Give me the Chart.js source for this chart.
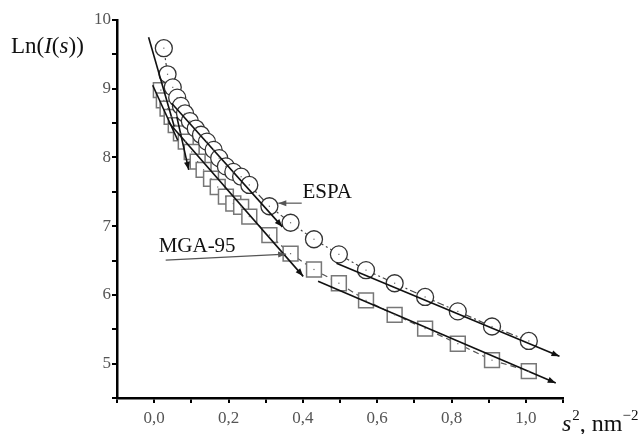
<!DOCTYPE html>
<html>
<head>
<meta charset="utf-8">
<script src="https://cdn.jsdelivr.net/npm/chart.js@4.4.1/dist/chart.umd.min.js"></script>
<style>
body{margin:0;background:#fff;}
#wrap{width:643px;height:434px;}
</style>
</head>
<body>
<div id="wrap"><canvas id="chart"></canvas></div>
<script>
// ESPA - circles
const espaS2=[0.026,0.036,0.05,0.062,0.072,0.083,0.096,0.112,0.126,0.142,0.16,0.175,0.193,0.213,0.234,0.256,0.31,0.367,0.43,0.497,0.57,0.647,0.729,0.817,0.909,1.008];
const espaLn=[9.59,9.21,9.02,8.87,8.75,8.64,8.53,8.42,8.33,8.23,8.11,7.99,7.87,7.79,7.72,7.6,7.29,7.05,6.81,6.59,6.36,6.17,5.97,5.76,5.54,5.33];

// MGA-95 - squares
const mgaS2=[0.018,0.026,0.036,0.047,0.058,0.072,0.085,0.101,0.117,0.133,0.153,0.171,0.193,0.213,0.234,0.256,0.31,0.367,0.43,0.497,0.57,0.647,0.729,0.817,0.909,1.008];
const mgaLn=[8.98,8.83,8.71,8.59,8.47,8.35,8.23,8.08,7.94,7.82,7.69,7.57,7.43,7.33,7.28,7.14,6.87,6.6,6.37,6.17,5.92,5.71,5.51,5.29,5.05,4.89];

// straight fits [x0,y0,x1,y1]
const espaFits=[[-0.015,9.75,0.054,8.45],[0.047,8.79,0.345,6.99],[0.4905,6.461,1.0905,5.107]];
const mgaFits=[[-0.004,9.05,0.0635,8.25],[0.039,8.51,0.401,6.27],[0.441,6.199,1.0805,4.718],[0.061,8.59,0.093,7.82]];
const fitArrows=[false,true,true,true];

// label pointers [x0,y0,x1,y1]
const pointers=[[0.397,7.335,0.334,7.335],[0.031,6.505,0.355,6.592]];
const labelNames=["ESPA","MGA-95"];
const labelAt=[[0.399,7.408],[0.012,6.622]];

const xTickValues=[0,0.2,0.4,0.6,0.8,1.0];
const xTickLabels=["0,0","0,2","0,4","0,6","0,8","1,0"];
const yTickValues=[5,6,7,8,9,10];
const yTickLabels=["5","6","7","8","9","10"];

function pts(xs,ys){return xs.map((x,i)=>({x:x,y:ys[i]}));}
function seg(s){return [{x:s[0],y:s[1]},{x:s[2],y:s[3]}];}
function pick(v,vals,labels){
  for(let i=0;i<vals.length;i++){ if(Math.abs(v-vals[i])<1e-6) return labels[i]; }
  return '';
}

const datasets=[
  {data:pts(espaS2,espaLn),borderColor:'#444',borderWidth:1.2,borderDash:[7,3,2,3],
   pointStyle:'circle',pointRadius:8.5,pointBorderColor:'#333',pointBorderWidth:1.3,
   pointBackgroundColor:'#fff',order:2,dots:true},
  {data:pts(mgaS2,mgaLn),borderColor:'#555',borderWidth:1.2,borderDash:[6,4],
   pointStyle:'rect',pointRadius:10.5,pointBorderColor:'#777',pointBorderWidth:1.5,
   pointBackgroundColor:'#fff',order:2,dots:true}
];
espaFits.forEach((s,i)=>datasets.push({data:seg(s),borderColor:'#111',borderWidth:1.6,pointRadius:0,order:1,arrow:fitArrows[i]}));
mgaFits.forEach((s,i)=>datasets.push({data:seg(s),borderColor:'#111',borderWidth:1.6,pointRadius:0,order:1,arrow:fitArrows[i]}));
pointers.forEach(s=>datasets.push({data:seg(s),borderColor:'#555',borderWidth:1.2,pointRadius:0,order:0,arrow:true}));

const extras={
  id:'extras',
  afterDatasetsDraw(chart){
    const ctx=chart.ctx, xs=chart.scales.x, ys=chart.scales.y;
    ctx.save();
    chart.data.datasets.forEach((ds,i)=>{
      const meta=chart.getDatasetMeta(i);
      if(ds.dots){
        ctx.fillStyle='#666';
        meta.data.forEach(p=>{ctx.fillRect(p.x-0.6,p.y-0.6,1.2,1.2);});
      }
      if(ds.arrow){
        const a=meta.data[0], b=meta.data[meta.data.length-1];
        const ang=Math.atan2(b.y-a.y,b.x-a.x), L=8, W=3;
        ctx.fillStyle=ds.borderColor;
        ctx.beginPath();
        ctx.moveTo(b.x,b.y);
        ctx.lineTo(b.x-L*Math.cos(ang)+W*Math.sin(ang),b.y-L*Math.sin(ang)-W*Math.cos(ang));
        ctx.lineTo(b.x-L*Math.cos(ang)-W*Math.sin(ang),b.y-L*Math.sin(ang)+W*Math.cos(ang));
        ctx.closePath();
        ctx.fill();
      }
    });
    // series labels
    ctx.fillStyle='#111';
    ctx.font='21px "Liberation Serif"';
    ctx.textBaseline='alphabetic';
    ctx.textAlign='left';
    labelNames.forEach((t,i)=>{
      ctx.fillText(t,xs.getPixelForValue(labelAt[i][0]),ys.getPixelForValue(labelAt[i][1]));
    });
    ctx.restore();
  },
  afterDraw(chart){
    const ctx=chart.ctx;
    ctx.save();
    ctx.fillStyle='#111';
    ctx.textBaseline='alphabetic';
    ctx.textAlign='left';
    // y title: Ln(I(s))
    let x=11;const yb=53;
    const parts=[['Ln(',''],['I','italic '],['(',''],['s','italic '],['))','']];
    parts.forEach(p=>{ctx.font=p[1]+'23px "Liberation Serif"';ctx.fillText(p[0],x,yb);x+=ctx.measureText(p[0]).width;});
    // x title: s^2, nm^-2
    x=562;const xb=431;
    ctx.font='italic 24px "Liberation Serif"';ctx.fillText('s',x,xb);x+=ctx.measureText('s').width+1;
    ctx.font='15px "Liberation Serif"';ctx.fillText('2',x,xb-11);x+=ctx.measureText('2').width;
    ctx.font='24px "Liberation Serif"';ctx.fillText(', nm',x,xb);x+=ctx.measureText(', nm').width;
    ctx.font='15px "Liberation Serif"';ctx.fillText('\u22122',x,xb-11);
    ctx.restore();
  }
};

new Chart(document.getElementById('chart'),{
  type:'line',
  data:{datasets:datasets},
  options:{
    responsive:true,
    maintainAspectRatio:false,
    animation:false,
    layout:{padding:{top:20,right:80,left:0,bottom:0}},
    plugins:{legend:{display:false},tooltip:{enabled:false}},
    scales:{
      x:{
        type:'linear',min:-0.1,max:1.1,
        afterFit(s){s.height=36;},
        ticks:{stepSize:0.1,autoSkip:false,maxRotation:0,padding:5,color:'#555',
          font:{family:'"Liberation Serif"',size:17},
          callback:v=>pick(v,xTickValues,xTickLabels)},
        grid:{display:true,drawOnChartArea:false,drawTicks:true,tickLength:5,color:'#000',lineWidth:2},
        border:{display:true,color:'#000',width:2.5}
      },
      y:{
        type:'linear',min:4.5,max:10,
        afterFit(s){s.width=117;},
        ticks:{stepSize:0.5,autoSkip:false,padding:1,color:'#555',
          font:{family:'"Liberation Serif"',size:17},
          callback:v=>pick(v,yTickValues,yTickLabels)},
        grid:{display:true,drawOnChartArea:false,drawTicks:true,tickLength:5,color:'#000',lineWidth:2},
        border:{display:true,color:'#000',width:2.5}
      }
    }
  },
  plugins:[extras]
});
</script>
</body>
</html>
